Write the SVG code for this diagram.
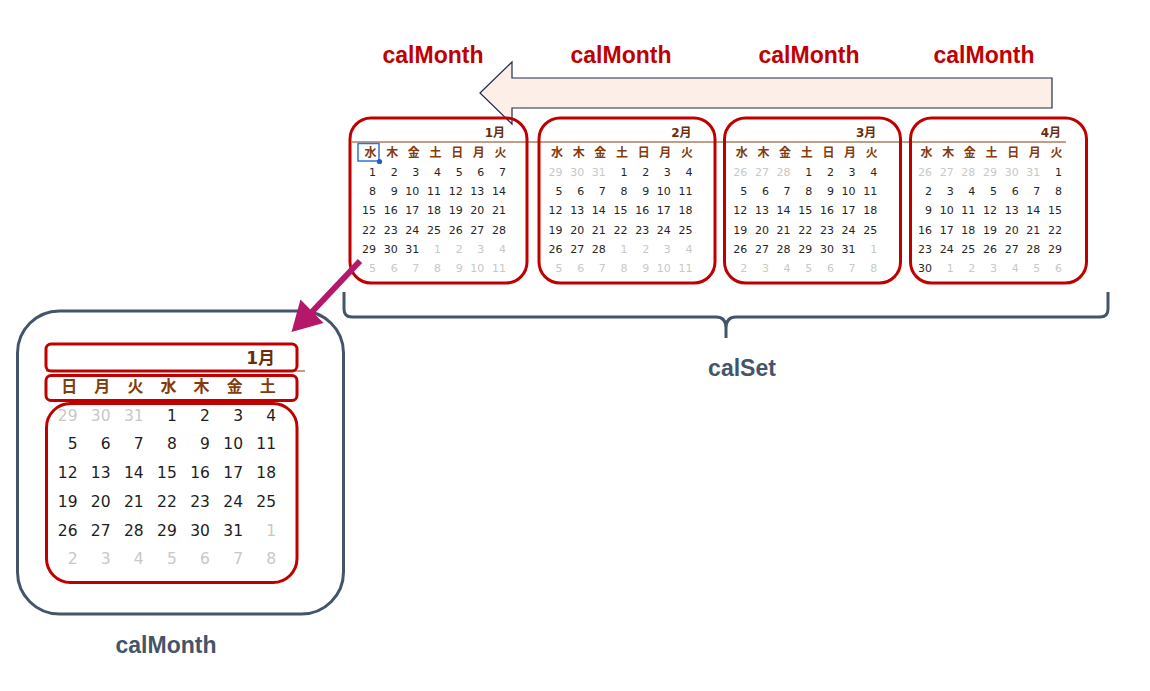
<svg xmlns="http://www.w3.org/2000/svg" width="1150" height="691" viewBox="0 0 1150 691">
<style>
.lbl{font-family:"Liberation Sans",Arial,sans-serif;font-weight:bold;font-size:23px;text-anchor:middle}
.red{fill:#c00000}
.slate{fill:#44546a}
.fr{fill:none;stroke:#c00000;stroke-width:3}
.n{font-family:"DejaVu Sans","Noto Sans CJK JP",sans-serif;font-size:11px;fill:#262626;text-anchor:end}
.g{fill:#c8c8c8}
.h{font-family:"Noto Sans CJK JP",sans-serif;font-weight:bold;font-size:12px;fill:#843c0c;text-anchor:middle}
.t{font-family:"DejaVu Sans","Noto Sans CJK JP",sans-serif;font-weight:bold;font-size:12px;fill:#6a2c0c;text-anchor:end}
.bn{font-family:"DejaVu Sans","Noto Sans CJK JP",sans-serif;font-size:15.5px;fill:#1e1e1e;text-anchor:end}
.bh{font-family:"Noto Sans CJK JP",sans-serif;font-weight:bold;font-size:16px;fill:#843c0c;text-anchor:middle}
.bt{font-family:"DejaVu Sans","Noto Sans CJK JP",sans-serif;font-weight:bold;font-size:17px;fill:#6a2c0c;text-anchor:end}
</style>
<defs>
<g id="hdrSmall">
<text class="h" x="-5.5" y="157">水</text><text class="h" x="16.2" y="157">木</text><text class="h" x="37.8" y="157">金</text><text class="h" x="59.5" y="157">土</text><text class="h" x="81.2" y="157">日</text><text class="h" x="102.8" y="157">月</text><text class="h" x="124.5" y="157">火</text>
</g>
</defs>

<g id="flow-arrow">
<polygon points="480,93 512,62 512,78 1052,78 1052,108 512,108 512,124" fill="#fdeee7" stroke="#1f2d50" stroke-width="1.2"/>
</g>

<g id="labels-top">
<text class="lbl red" x="433" y="62.5">calMonth</text>
<text class="lbl red" x="621" y="62.5">calMonth</text>
<text class="lbl red" x="809" y="62.5">calMonth</text>
<text class="lbl red" x="984" y="62.5">calMonth</text>
</g>

<line x1="352" y1="142" x2="1066" y2="142" stroke="#843c0c" stroke-width="1"/>

<g id="cal-jan">
<rect class="fr" x="350" y="118" width="177" height="165" rx="21"/>
<g transform="translate(376,0)">
<text class="t" x="129" y="137">1月</text>
<use href="#hdrSmall"/>
<rect x="-18" y="143.5" width="21" height="17.5" fill="none" stroke="#2e75d4" stroke-width="1.5"/>
<circle cx="3.5" cy="161.5" r="2.6" fill="#1f5fc4"/>
<g class="n">
<text x="0" y="176">1</text><text x="21.7" y="176">2</text><text x="43.3" y="176">3</text><text x="65" y="176">4</text><text x="86.7" y="176">5</text><text x="108.3" y="176">6</text><text x="130" y="176">7</text>
<text x="0" y="195.2">8</text><text x="21.7" y="195.2">9</text><text x="43.3" y="195.2">10</text><text x="65" y="195.2">11</text><text x="86.7" y="195.2">12</text><text x="108.3" y="195.2">13</text><text x="130" y="195.2">14</text>
<text x="0" y="214.4">15</text><text x="21.7" y="214.4">16</text><text x="43.3" y="214.4">17</text><text x="65" y="214.4">18</text><text x="86.7" y="214.4">19</text><text x="108.3" y="214.4">20</text><text x="130" y="214.4">21</text>
<text x="0" y="233.6">22</text><text x="21.7" y="233.6">23</text><text x="43.3" y="233.6">24</text><text x="65" y="233.6">25</text><text x="86.7" y="233.6">26</text><text x="108.3" y="233.6">27</text><text x="130" y="233.6">28</text>
<text x="0" y="252.8">29</text><text x="21.7" y="252.8">30</text><text x="43.3" y="252.8">31</text><text class="g" x="65" y="252.8">1</text><text class="g" x="86.7" y="252.8">2</text><text class="g" x="108.3" y="252.8">3</text><text class="g" x="130" y="252.8">4</text>
<text class="g" x="0" y="272">5</text><text class="g" x="21.7" y="272">6</text><text class="g" x="43.3" y="272">7</text><text class="g" x="65" y="272">8</text><text class="g" x="86.7" y="272">9</text><text class="g" x="108.3" y="272">10</text><text class="g" x="130" y="272">11</text>
</g>
</g>
</g>

<g id="cal-feb">
<rect class="fr" x="539" y="118" width="176" height="165" rx="21"/>
<g transform="translate(562.5,0)">
<text class="t" x="129" y="137">2月</text>
<use href="#hdrSmall"/>
<g class="n">
<text class="g" x="0" y="176">29</text><text class="g" x="21.7" y="176">30</text><text class="g" x="43.3" y="176">31</text><text x="65" y="176">1</text><text x="86.7" y="176">2</text><text x="108.3" y="176">3</text><text x="130" y="176">4</text>
<text x="0" y="195.2">5</text><text x="21.7" y="195.2">6</text><text x="43.3" y="195.2">7</text><text x="65" y="195.2">8</text><text x="86.7" y="195.2">9</text><text x="108.3" y="195.2">10</text><text x="130" y="195.2">11</text>
<text x="0" y="214.4">12</text><text x="21.7" y="214.4">13</text><text x="43.3" y="214.4">14</text><text x="65" y="214.4">15</text><text x="86.7" y="214.4">16</text><text x="108.3" y="214.4">17</text><text x="130" y="214.4">18</text>
<text x="0" y="233.6">19</text><text x="21.7" y="233.6">20</text><text x="43.3" y="233.6">21</text><text x="65" y="233.6">22</text><text x="86.7" y="233.6">23</text><text x="108.3" y="233.6">24</text><text x="130" y="233.6">25</text>
<text x="0" y="252.8">26</text><text x="21.7" y="252.8">27</text><text x="43.3" y="252.8">28</text><text class="g" x="65" y="252.8">1</text><text class="g" x="86.7" y="252.8">2</text><text class="g" x="108.3" y="252.8">3</text><text class="g" x="130" y="252.8">4</text>
<text class="g" x="0" y="272">5</text><text class="g" x="21.7" y="272">6</text><text class="g" x="43.3" y="272">7</text><text class="g" x="65" y="272">8</text><text class="g" x="86.7" y="272">9</text><text class="g" x="108.3" y="272">10</text><text class="g" x="130" y="272">11</text>
</g>
</g>
</g>

<g id="cal-mar">
<rect class="fr" x="724.5" y="118" width="176" height="165" rx="21"/>
<g transform="translate(747.3,0)">
<text class="t" x="129" y="137">3月</text>
<use href="#hdrSmall"/>
<g class="n">
<text class="g" x="0" y="176">26</text><text class="g" x="21.7" y="176">27</text><text class="g" x="43.3" y="176">28</text><text x="65" y="176">1</text><text x="86.7" y="176">2</text><text x="108.3" y="176">3</text><text x="130" y="176">4</text>
<text x="0" y="195.2">5</text><text x="21.7" y="195.2">6</text><text x="43.3" y="195.2">7</text><text x="65" y="195.2">8</text><text x="86.7" y="195.2">9</text><text x="108.3" y="195.2">10</text><text x="130" y="195.2">11</text>
<text x="0" y="214.4">12</text><text x="21.7" y="214.4">13</text><text x="43.3" y="214.4">14</text><text x="65" y="214.4">15</text><text x="86.7" y="214.4">16</text><text x="108.3" y="214.4">17</text><text x="130" y="214.4">18</text>
<text x="0" y="233.6">19</text><text x="21.7" y="233.6">20</text><text x="43.3" y="233.6">21</text><text x="65" y="233.6">22</text><text x="86.7" y="233.6">23</text><text x="108.3" y="233.6">24</text><text x="130" y="233.6">25</text>
<text x="0" y="252.8">26</text><text x="21.7" y="252.8">27</text><text x="43.3" y="252.8">28</text><text x="65" y="252.8">29</text><text x="86.7" y="252.8">30</text><text x="108.3" y="252.8">31</text><text class="g" x="130" y="252.8">1</text>
<text class="g" x="0" y="272">2</text><text class="g" x="21.7" y="272">3</text><text class="g" x="43.3" y="272">4</text><text class="g" x="65" y="272">5</text><text class="g" x="86.7" y="272">6</text><text class="g" x="108.3" y="272">7</text><text class="g" x="130" y="272">8</text>
</g>
</g>
</g>

<g id="cal-apr">
<rect class="fr" x="910.5" y="118" width="176" height="165" rx="21"/>
<g transform="translate(932,0)">
<text class="t" x="129" y="137">4月</text>
<use href="#hdrSmall"/>
<g class="n">
<text class="g" x="0" y="176">26</text><text class="g" x="21.7" y="176">27</text><text class="g" x="43.3" y="176">28</text><text class="g" x="65" y="176">29</text><text class="g" x="86.7" y="176">30</text><text class="g" x="108.3" y="176">31</text><text x="130" y="176">1</text>
<text x="0" y="195.2">2</text><text x="21.7" y="195.2">3</text><text x="43.3" y="195.2">4</text><text x="65" y="195.2">5</text><text x="86.7" y="195.2">6</text><text x="108.3" y="195.2">7</text><text x="130" y="195.2">8</text>
<text x="0" y="214.4">9</text><text x="21.7" y="214.4">10</text><text x="43.3" y="214.4">11</text><text x="65" y="214.4">12</text><text x="86.7" y="214.4">13</text><text x="108.3" y="214.4">14</text><text x="130" y="214.4">15</text>
<text x="0" y="233.6">16</text><text x="21.7" y="233.6">17</text><text x="43.3" y="233.6">18</text><text x="65" y="233.6">19</text><text x="86.7" y="233.6">20</text><text x="108.3" y="233.6">21</text><text x="130" y="233.6">22</text>
<text x="0" y="252.8">23</text><text x="21.7" y="252.8">24</text><text x="43.3" y="252.8">25</text><text x="65" y="252.8">26</text><text x="86.7" y="252.8">27</text><text x="108.3" y="252.8">28</text><text x="130" y="252.8">29</text>
<text x="0" y="272">30</text><text class="g" x="21.7" y="272">1</text><text class="g" x="43.3" y="272">2</text><text class="g" x="65" y="272">3</text><text class="g" x="86.7" y="272">4</text><text class="g" x="108.3" y="272">5</text><text class="g" x="130" y="272">6</text>
</g>
</g>
</g>

<g id="calset-brace">
<path d="M344,292 L344,309 Q344,317 352,317 L716,317 Q726,317 726,328 L726,338 M726,328 Q726,317 736,317 L1100,317 Q1108,317 1108,309 L1108,292" fill="none" stroke="#44546a" stroke-width="3"/>
<text class="lbl slate" x="742" y="376">calSet</text>
</g>

<g id="cal-detail">
<rect x="17.5" y="311" width="326" height="303" rx="42" fill="none" stroke="#44546a" stroke-width="3"/>
<line x1="46" y1="371" x2="305" y2="371" stroke="#843c0c" stroke-width="1"/>
<rect class="fr" x="46" y="344" width="251" height="27" rx="5"/>
<rect class="fr" x="46" y="375.5" width="251" height="25" rx="5"/>
<rect class="fr" x="46.5" y="403.5" width="250.5" height="179" rx="24"/>
<text class="bt" x="275" y="363.5">1月</text>
<text class="bh" x="69.2" y="391.5">日</text><text class="bh" x="102.3" y="391.5">月</text><text class="bh" x="135.4" y="391.5">火</text><text class="bh" x="168.5" y="391.5">水</text><text class="bh" x="201.6" y="391.5">木</text><text class="bh" x="234.7" y="391.5">金</text><text class="bh" x="267.8" y="391.5">土</text>
<g class="bn">
<text class="g" x="77.5" y="420.7">29</text><text class="g" x="110.6" y="420.7">30</text><text class="g" x="143.7" y="420.7">31</text><text x="176.8" y="420.7">1</text><text x="209.9" y="420.7">2</text><text x="243" y="420.7">3</text><text x="276.1" y="420.7">4</text>
<text x="77.5" y="449.4">5</text><text x="110.6" y="449.4">6</text><text x="143.7" y="449.4">7</text><text x="176.8" y="449.4">8</text><text x="209.9" y="449.4">9</text><text x="243" y="449.4">10</text><text x="276.1" y="449.4">11</text>
<text x="77.5" y="478.1">12</text><text x="110.6" y="478.1">13</text><text x="143.7" y="478.1">14</text><text x="176.8" y="478.1">15</text><text x="209.9" y="478.1">16</text><text x="243" y="478.1">17</text><text x="276.1" y="478.1">18</text>
<text x="77.5" y="506.8">19</text><text x="110.6" y="506.8">20</text><text x="143.7" y="506.8">21</text><text x="176.8" y="506.8">22</text><text x="209.9" y="506.8">23</text><text x="243" y="506.8">24</text><text x="276.1" y="506.8">25</text>
<text x="77.5" y="535.5">26</text><text x="110.6" y="535.5">27</text><text x="143.7" y="535.5">28</text><text x="176.8" y="535.5">29</text><text x="209.9" y="535.5">30</text><text x="243" y="535.5">31</text><text class="g" x="276.1" y="535.5">1</text>
<text class="g" x="77.5" y="564.2">2</text><text class="g" x="110.6" y="564.2">3</text><text class="g" x="143.7" y="564.2">4</text><text class="g" x="176.8" y="564.2">5</text><text class="g" x="209.9" y="564.2">6</text><text class="g" x="243" y="564.2">7</text><text class="g" x="276.1" y="564.2">8</text>
</g>
<text class="lbl slate" x="166" y="653">calMonth</text>
</g>

<g id="connectors">
<line x1="360" y1="261" x2="309" y2="315" stroke="#b5176b" stroke-width="6"/>
<polygon points="291.5,332 300.5,299.5 323.5,323" fill="#b5176b"/>
</g>
</svg>
